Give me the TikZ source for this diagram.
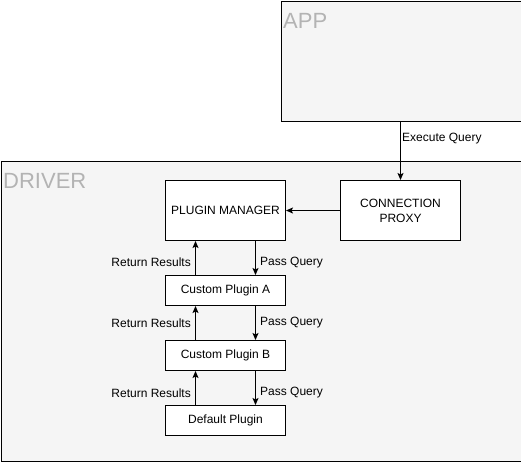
\documentclass[tikz,border=0pt]{standalone}
\usepackage{fontspec}
\setmainfont{Liberation Sans}
\usetikzlibrary{arrows.meta}
\definecolor{contfill}{HTML}{F5F5F5}
\definecolor{titlegray}{HTML}{B3B3B3}
\begin{document}
\begin{tikzpicture}[x=1pt,y=-1pt,
  container/.style={draw=black,fill=contfill,line width=1pt,inner sep=0pt,anchor=north west},
  box/.style={draw=black,fill=white,line width=1pt,align=center,inner sep=0pt,
    minimum width=120pt,font=\fontsize{12}{15}\selectfont},
  bigbox/.style={box,minimum height=60pt},
  smallbox/.style={box,minimum height=30pt},
  title/.style={anchor=base west,text=titlegray,font=\fontsize{22}{24}\selectfont,inner sep=0pt},
  lbl/.style={font=\fontsize{12}{14}\selectfont,inner sep=0pt},
  arr/.style={line width=1pt,-{Stealth[length=7pt,width=6pt,inset=1.5pt]}}]
\useasboundingbox (0,0) rectangle (521,461);
% containers
\node[container,minimum width=240pt,minimum height=120pt] (app) at (280.5,0.5) {};
\node[title] (apptitle) at (283,28) {APP};
\node[container,minimum width=520pt,minimum height=300pt] (drv) at (0.5,160.5) {};
\node[title] (drvtitle) at (3,188) {DRIVER};
% boxes
\node[bigbox] (pm) at (225.5,210.5) {PLUGIN MANAGER};
\node[bigbox] (cp) at (400.5,210.5) {CONNECTION\\PROXY};
\node[smallbox] (pa) at (225.5,290.5) {Custom Plugin A};
\node[smallbox] (pb) at (225.5,355.5) {Custom Plugin B};
\node[smallbox] (dp) at (225.5,420.5) {Default Plugin};
% arrows
\draw[arr] (app.south -| cp.north) -- (cp.north);
\node[lbl,anchor=west] (eq) at (402,139) {Execute Query};
\draw[arr] (cp.west) -- (pm.east);
\draw[arr] ([xshift=-30pt]pa.north) -- ([xshift=-30pt]pm.south);
\draw[arr] ([xshift=30pt]pm.south) -- ([xshift=30pt]pa.north);
\draw[arr] ([xshift=-30pt]pb.north) -- ([xshift=-30pt]pa.south);
\draw[arr] ([xshift=30pt]pa.south) -- ([xshift=30pt]pb.north);
\draw[arr] ([xshift=-30pt]dp.north) -- ([xshift=-30pt]pb.south);
\draw[arr] ([xshift=30pt]pb.south) -- ([xshift=30pt]dp.north);
\node[lbl,anchor=east] (rr1) at (191,262) {Return Results};
\node[lbl,anchor=west] (pq1) at (260,263) {Pass Query};
\node[lbl,anchor=east] (rr2) at (191,323) {Return Results};
\node[lbl,anchor=west] (pq2) at (260,323) {Pass Query};
\node[lbl,anchor=east] (rr3) at (191,393) {Return Results};
\node[lbl,anchor=west] (pq3) at (260,393) {Pass Query};
\end{tikzpicture}
\end{document}
